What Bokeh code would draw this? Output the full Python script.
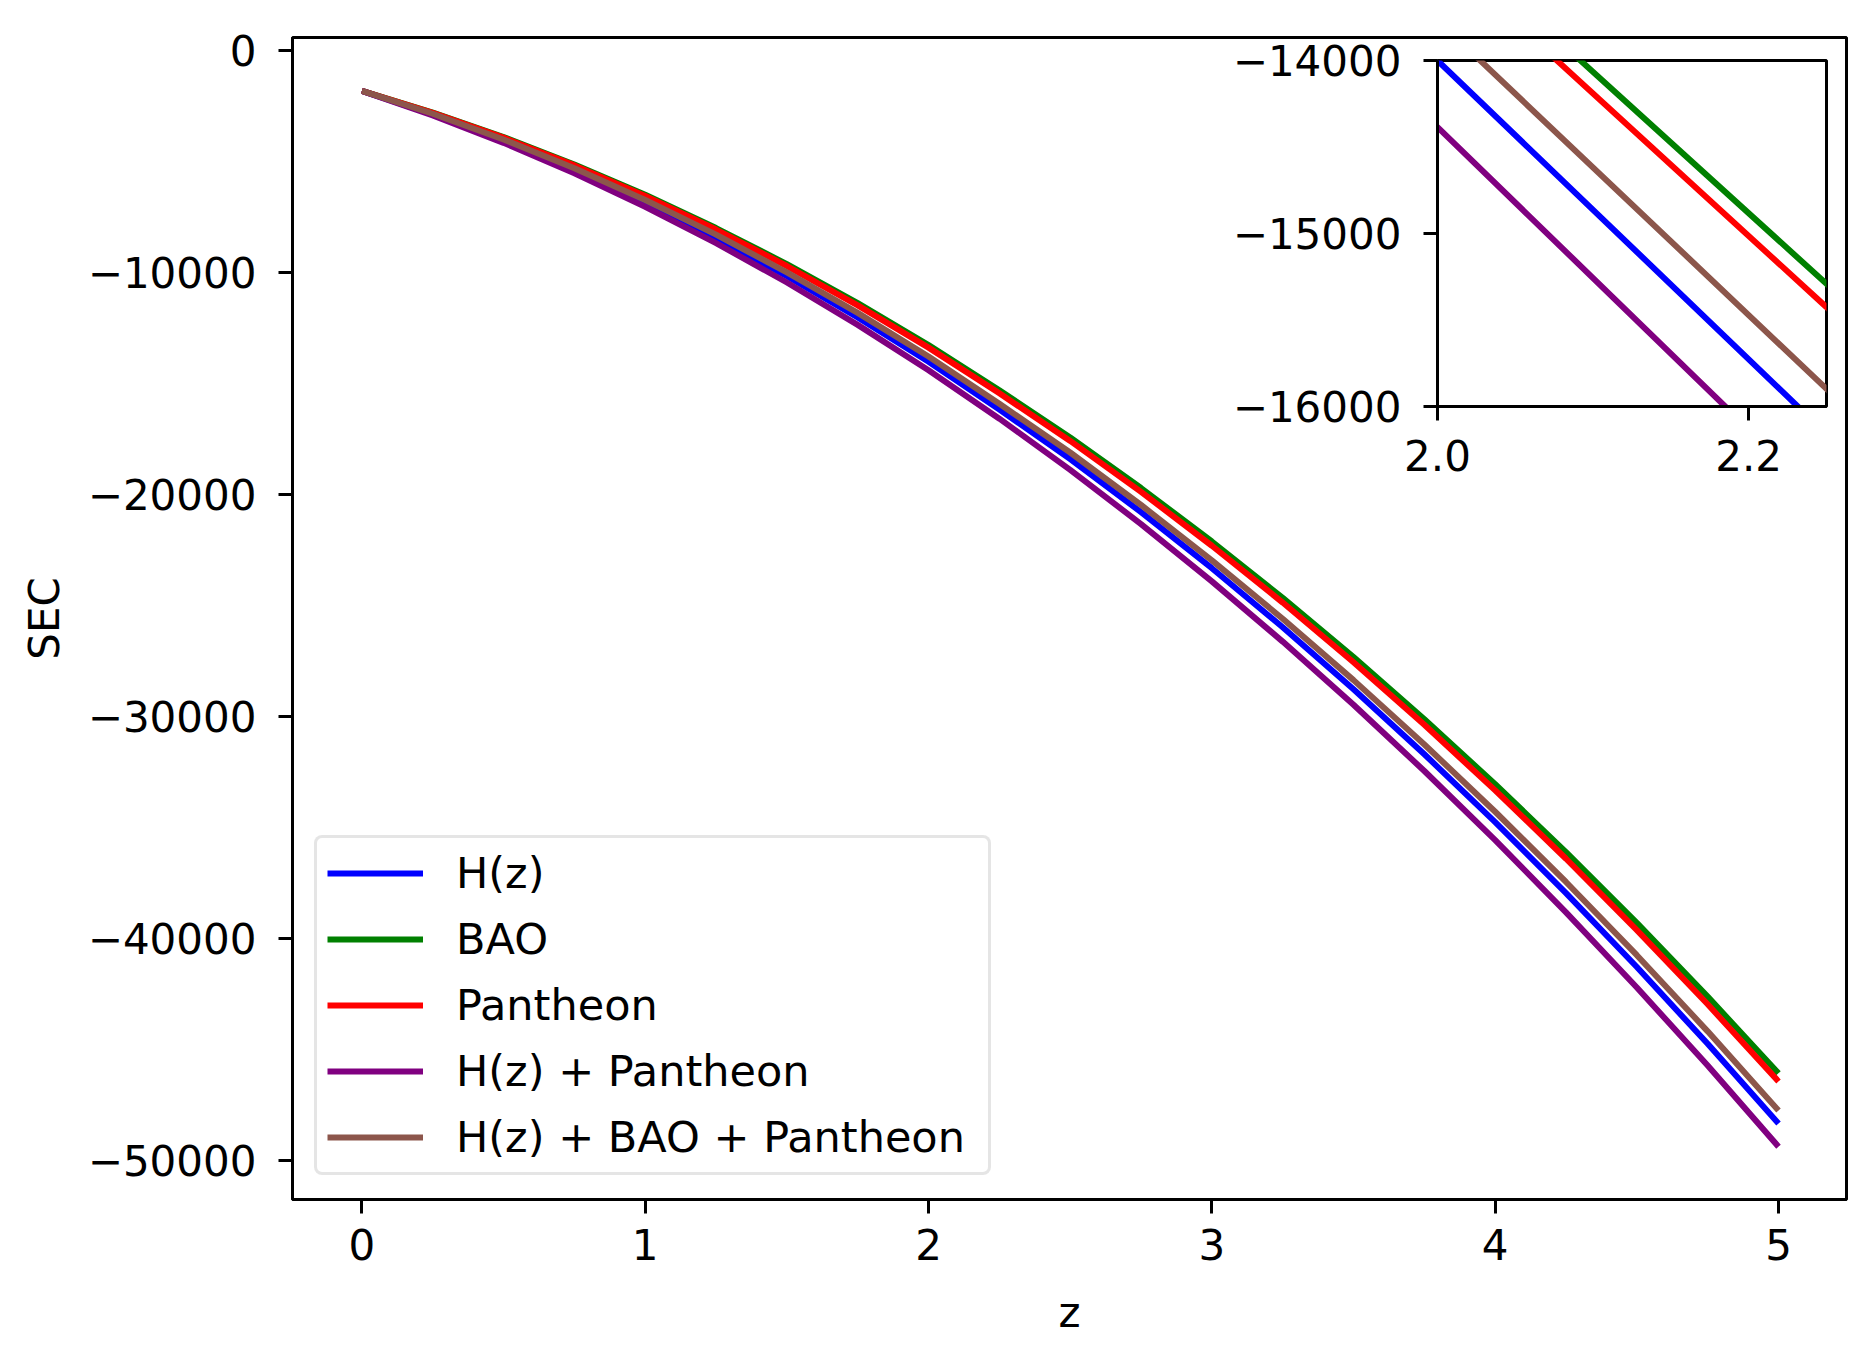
from bokeh.plotting import figure
from bokeh.models import Range1d, FixedTicker, Legend, LegendItem
from bokeh.layouts import column
from bokeh.embed import file_html
from bokeh.resources import INLINE

# ---- data ----
z = [0, 0.25, 0.5, 0.75, 1, 1.25, 1.5, 1.75, 2, 2.25, 2.5, 2.75, 3,
     3.25, 3.5, 3.75, 4, 4.25, 4.5, 4.75, 5]
sec_hz = [-1800, -2858, -4048, -5373, -6832, -8423, -10149, -12008, -14000, -16159, -18386,
          -20779, -23306, -25967, -28761, -31689, -34750, -37944, -41273, -44735, -48330]
sec_bao = [-1800, -2775, -3881, -5116, -6482, -7980, -9606, -11363, -13250, -15291, -17415,
           -19693, -22102, -24640, -27309, -30109, -33039, -36099, -39289, -42609, -46060]
sec_pantheon = [-1800, -2787, -3907, -5156, -6536, -8048, -9690, -11463, -13368, -15426, -17570,
                -19866, -22294, -24853, -27542, -30362, -33315, -36397, -39610, -42955, -46430]
sec_hz_pantheon = [-1800, -2903, -4140, -5513, -7019, -8659, -10433, -12342, -14385, -16568, -18873,
                   -21319, -23899, -26613, -29461, -32443, -35561, -38811, -42196, -45715, -49370]
sec_hz_bao_pantheon = [-1800, -2829, -3990, -5286, -6714, -8277, -9974, -11803, -13766, -15898, -18093,
                       -20457, -22954, -25585, -28349, -31247, -34279, -37443, -40742, -44173, -47740]

series_names = ["H(z)", "BAO", "Pantheon", "H(z) + Pantheon", "H(z) + BAO + Pantheon"]
series_values = [sec_hz, sec_bao, sec_pantheon, sec_hz_pantheon, sec_hz_bao_pantheon]
series_colors = ["#0000ff", "#008000", "#ff0000", "#800080", "#8c564b"]

main_xticks = [0, 1, 2, 3, 4, 5]
main_xtick_labels = ["0", "1", "2", "3", "4", "5"]
main_yticks = [0, -10000, -20000, -30000, -40000, -50000]
main_ytick_labels = ["0", "\u221210000", "\u221220000", "\u221230000", "\u221240000", "\u221250000"]

inset_xticks = [2.0, 2.2]
inset_xtick_labels = ["2.0", "2.2"]
inset_yticks = [-14000, -15000, -16000]
inset_ytick_labels = ["\u221214000", "\u221215000", "\u221216000"]

FONT = "DejaVu Sans"
FS = "42px"


def style_axes(fig, xt, xl, yt, yl):
    fig.xaxis.ticker = FixedTicker(ticks=xt)
    fig.yaxis.ticker = FixedTicker(ticks=yt)
    fig.xaxis.major_label_overrides = {t: l for t, l in zip(xt, xl)}
    fig.yaxis.major_label_overrides = {t: l for t, l in zip(yt, yl)}
    for ax in (fig.xaxis, fig.yaxis):
        ax.axis_line_color = "black"
        ax.axis_line_width = 3
        ax.major_tick_line_color = "black"
        ax.major_tick_line_width = 3
        ax.major_tick_out = 14
        ax.major_tick_in = 0
        ax.minor_tick_line_color = None
        ax.major_label_text_font = FONT
        ax.major_label_text_font_size = FS
        ax.major_label_text_color = "black"
        ax.axis_label_text_font = FONT
        ax.axis_label_text_font_size = FS
        ax.axis_label_text_font_style = "normal"
        ax.axis_label_text_color = "black"
    fig.xaxis.major_label_standoff = 15
    fig.yaxis.major_label_standoff = 22
    fig.xgrid.grid_line_color = None
    fig.ygrid.grid_line_color = None
    fig.outline_line_color = "black"
    fig.outline_line_width = 3
    fig.outline_line_alpha = 1


p = figure(width=1862, height=1351,
           x_range=Range1d(-0.245, 5.24), y_range=Range1d(-51750, 606),
           output_backend="svg", toolbar_location=None, title=None,
           min_border_left=292, min_border_right=16,
           min_border_top=37, min_border_bottom=152)
style_axes(p, main_xticks, main_xtick_labels, main_yticks, main_ytick_labels)
p.xaxis.axis_label = "z"
p.yaxis.axis_label = "SEC"
p.xaxis.axis_label_standoff = 25
p.yaxis.axis_label_standoff = 16

renderers = []
for vals, col in zip(series_values, series_colors):
    r = p.line(z, vals, line_color=col, line_width=6)
    renderers.append(r)

legend = Legend(items=[LegendItem(label=n, renderers=[r]) for n, r in zip(series_names, renderers)],
                location=(22, 24), margin=0, padding=10, spacing=16,
                glyph_width=96, glyph_height=50, label_height=50, label_width=522,
                label_standoff=33,
                label_text_font=FONT, label_text_font_size="43px", label_text_color="black",
                background_fill_color="white", background_fill_alpha=0.8,
                border_line_color="#cccccc", border_line_width=3, border_radius=8)
p.add_layout(legend)

ins = figure(width=697, height=468,
             x_range=Range1d(2.0, 2.25), y_range=Range1d(-16000, -14000),
             output_backend="svg", toolbar_location=None, title=None,
             min_border_left=292, min_border_right=16,
             min_border_top=32, min_border_bottom=90,
             border_fill_color=None, border_fill_alpha=0,
             background_fill_color="white")
style_axes(ins, inset_xticks, inset_xtick_labels, inset_yticks, inset_ytick_labels)
ins.xaxis.major_label_standoff = 19
for vals, col in zip(series_values, series_colors):
    ins.line(z, vals, line_color=col, line_width=6)
ins.styles = {"position": "absolute", "left": "1145px", "top": "28px"}

layout = column(p, ins)
layout.styles = {"position": "relative"}

open("out.html", "w").write(file_html(layout, INLINE))
